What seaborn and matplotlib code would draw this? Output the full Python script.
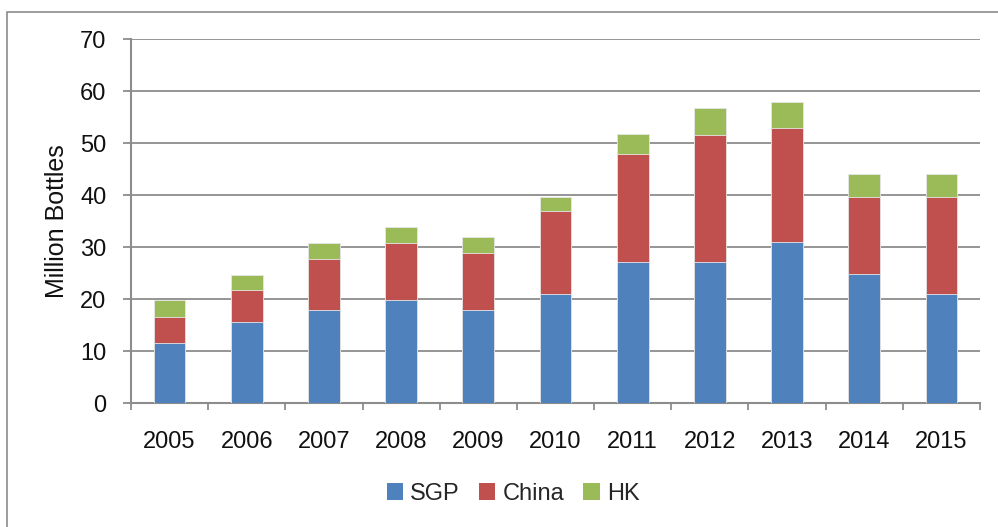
import matplotlib
matplotlib.use("Agg")
import matplotlib.pyplot as plt
import seaborn as sns
import pandas as pd
import numpy as np
from matplotlib.patches import Rectangle, Patch

years = ["2005", "2006", "2007", "2008", "2009", "2010", "2011", "2012", "2013", "2014", "2015"]
sgp = [11.6, 15.6, 17.8, 19.8, 17.8, 20.9, 27.1, 27.1, 30.9, 24.8, 20.9]
china = [5.0, 6.1, 9.9, 11.0, 11.1, 16.1, 20.7, 24.5, 21.9, 14.9, 18.8]
hk = [3.2, 3.0, 3.1, 3.1, 3.1, 2.7, 3.9, 5.1, 5.1, 4.4, 4.4]
series = ["SGP", "China", "HK"]
colors = ["#4F81BD", "#C0504D", "#9BBB59"]

sns.set_theme(style="white")
plt.rcParams["font.family"] = ["Liberation Sans", "DejaVu Sans"]

df = pd.DataFrame({"year": years, "SGP": sgp, "China": china, "HK": hk})
df["c1"] = df["SGP"]
df["c2"] = df["SGP"] + df["China"]
df["c3"] = df["c2"] + df["HK"]

fig = plt.figure(figsize=(9.98, 5.27), dpi=100)
W, H = 998, 527
ax = fig.add_axes([131 / W, 1 - 403 / H, (980 - 131) / W, (403 - 39) / H])

grid_c = "#8C8C8C"
txt_c = "#111111"
ax.set_axisbelow(True)
for col, c in zip(["c3", "c2", "c1"], colors[::-1]):
    sns.barplot(data=df, x="year", y=col, color=c, saturation=1, width=0.41,
                edgecolor="#E6E6E6", linewidth=0.6, ax=ax, zorder=3)

ax.set_ylim(0, 70)
ax.set_xlim(-0.5, 10.5)
ax.set_yticks(range(0, 71, 10))
ax.yaxis.grid(True, color=grid_c, linewidth=1.3)
ax.xaxis.grid(False)
for s in ["top", "right"]:
    ax.spines[s].set_visible(False)
for s in ["left", "bottom"]:
    ax.spines[s].set_color(grid_c)
    ax.spines[s].set_linewidth(1.5)

ax.set_xlabel("")
ax.set_ylabel("Million Bottles", fontsize=18, color=txt_c, labelpad=8)
ax.tick_params(axis="y", length=5.8, width=1.3, color=grid_c, labelsize=17,
               labelcolor=txt_c, pad=12, left=True)
ax.tick_params(axis="x", which="major", length=0, labelsize=17, labelcolor=txt_c, pad=20)
ax.set_xticks(np.arange(-0.5, 11, 1), minor=True)
ax.tick_params(axis="x", which="minor", length=5, width=1.3, color=grid_c, bottom=True)

handles = [Patch(facecolor=c, edgecolor="none", label=l) for c, l in zip(colors, series)]
fig.legend(handles=handles, loc="center", bbox_to_anchor=(513 / W, 1 - 494 / H), ncol=3,
           frameon=False, fontsize=17, handlelength=0.7, handleheight=0.7,
           handletextpad=0.3, columnspacing=0.8)

fig.patches.append(Rectangle((7 / W, -0.05), 1.1, (1 - 12 / H) + 0.05, transform=fig.transFigure,
                             fill=False, edgecolor="#8C8C8C", linewidth=1.2))

fig.savefig("out.png", dpi=100)
